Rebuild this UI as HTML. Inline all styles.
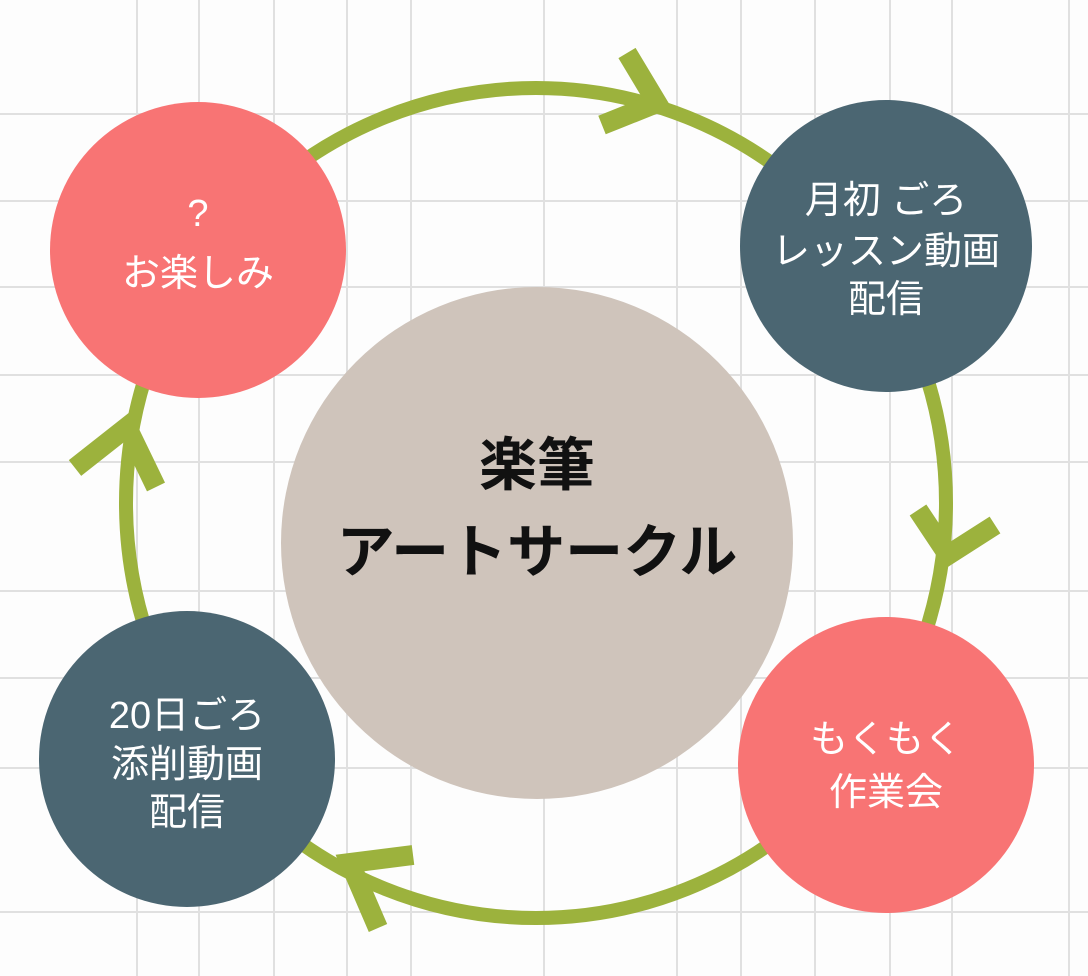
<!DOCTYPE html>
<html><head><meta charset="utf-8"><style>
body{margin:0;background:#fff}
svg{display:block}
text{font-family:"Liberation Sans","Noto Sans CJK JP",sans-serif;text-anchor:middle}
</style></head><body>
<svg width="1088" height="976" viewBox="0 0 1088 976" xmlns="http://www.w3.org/2000/svg">
<rect width="1088" height="976" fill="#fdfdfd"/>
<g stroke="#e0e0e0" stroke-width="2">
<line x1="137" y1="0" x2="137" y2="976"/><line x1="199" y1="0" x2="199" y2="976"/>
<line x1="274" y1="0" x2="274" y2="976"/><line x1="347" y1="0" x2="347" y2="976"/>
<line x1="411" y1="0" x2="411" y2="976"/><line x1="544" y1="0" x2="544" y2="976"/>
<line x1="677" y1="0" x2="677" y2="976"/><line x1="741" y1="0" x2="741" y2="976"/>
<line x1="815" y1="0" x2="815" y2="976"/><line x1="890" y1="0" x2="890" y2="976"/>
<line x1="952" y1="0" x2="952" y2="976"/><line x1="1069" y1="0" x2="1069" y2="976"/>
<line x1="0" y1="114" x2="1088" y2="114"/><line x1="0" y1="201" x2="1088" y2="201"/>
<line x1="0" y1="287" x2="1088" y2="287"/><line x1="0" y1="375" x2="1088" y2="375"/>
<line x1="0" y1="462" x2="1088" y2="462"/><line x1="0" y1="591" x2="1088" y2="591"/>
<line x1="0" y1="678" x2="1088" y2="678"/><line x1="0" y1="768" x2="1088" y2="768"/>
<line x1="0" y1="912" x2="1088" y2="912"/>
</g>
<ellipse cx="536" cy="503" rx="410" ry="415" fill="none" stroke="#9cb23d" stroke-width="14"/>
<g fill="none" stroke="#9cb23d" stroke-width="20" stroke-linejoin="miter">
<polyline points="627,53 657,103 602,125"/>
<polyline points="918,510 948,555 995,525"/>
<polyline points="413,855 350,863 378,928"/>
<polyline points="75,468 127,427 156,487"/>
</g>
<circle cx="198" cy="250" r="148" fill="#f87474"/>
<circle cx="886" cy="246" r="146" fill="#4b6672"/>
<circle cx="537" cy="543" r="256" fill="#cfc4bb"/>
<circle cx="187" cy="759" r="148" fill="#4b6672"/>
<circle cx="886" cy="765" r="148" fill="#f87474"/>
<g fill="#fff" font-size="38">
<text x="198" y="226">?</text>
<text x="198" y="286">お楽しみ</text>
<text x="886" y="213">月初 ごろ</text>
<text x="886" y="264">レッスン動画</text>
<text x="886" y="312">配信</text>
<text x="187" y="728">20日ごろ</text>
<text x="187" y="777">添削動画</text>
<text x="187" y="825">配信</text>
<text x="886" y="752">もくもく</text>
<text x="886" y="805">作業会</text>
</g>
<g fill="#111" font-size="58" font-weight="bold">
<text x="537" y="485">楽筆</text>
<text x="537" y="572">アートサークル</text>
</g>
</svg>
</body></html>
